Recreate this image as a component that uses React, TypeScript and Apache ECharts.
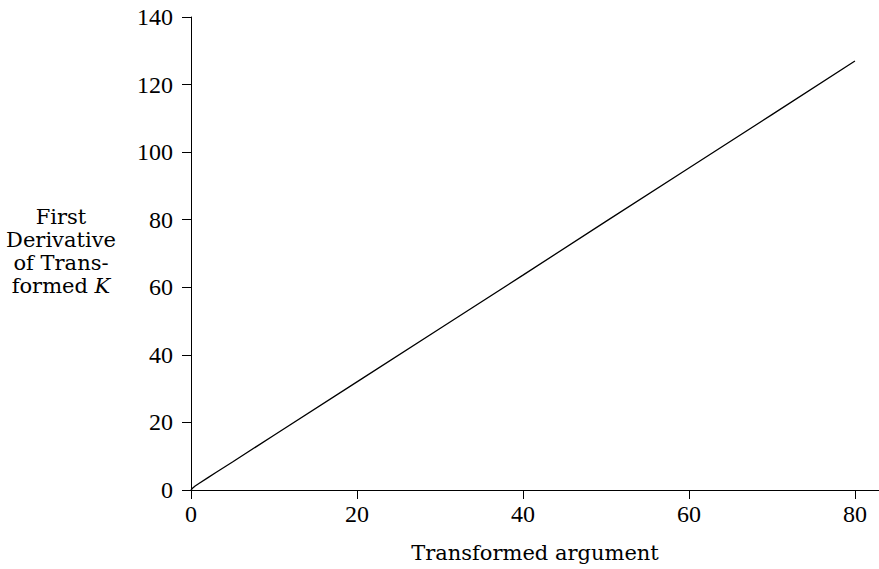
import React, { useEffect, useRef } from "react";
import * as echarts from "echarts";

const xValues = [0, 0.25, 0.5, 1, 2, 3, 5, 10, 20, 30, 40, 50, 60, 70, 80];
const yValues = [0, 0.7, 1.2, 2.0, 3.6, 5.2, 8.3, 16.2, 32.0, 47.8, 63.6, 79.5, 95.3, 111.1, 127.0];
const xTicks = [0, 20, 40, 60, 80];
const yTicks = [0, 20, 40, 60, 80, 100, 120, 140];
const xTitle = "Transformed argument";
const yTitleLines = ["First", "Derivative", "of Trans-"];

const TICK_FONT = "Liberation Serif";
const FONT = "DejaVu Serif";

export default function App() {
  const ref = useRef<HTMLDivElement>(null);
  useEffect(() => {
    if (!ref.current) return;
    const chart = echarts.init(ref.current, undefined, { renderer: "svg" });
    chart.setOption({
      animation: false,
      backgroundColor: "#ffffff",
      grid: { left: 191, top: 17, right: 0, bottom: 79, containLabel: false },
      xAxis: {
        type: "value",
        min: 0,
        max: 82.9,
        axisLine: { show: true, lineStyle: { color: "#000", width: 1 } },
        axisTick: { show: true, customValues: xTicks, length: 9, lineStyle: { color: "#000" } },
        axisLabel: { customValues: xTicks, color: "#000", fontFamily: TICK_FONT, fontSize: 24, margin: 12 },
        splitLine: { show: false },
      },
      yAxis: {
        type: "value",
        min: 0,
        max: 140,
        interval: 20,
        axisLine: { show: true, lineStyle: { color: "#000", width: 1 } },
        axisTick: { show: true, customValues: yTicks, length: 9, lineStyle: { color: "#000" } },
        axisLabel: { customValues: yTicks, color: "#000", fontFamily: TICK_FONT, fontSize: 24, margin: 18 },
        splitLine: { show: false },
      },
      graphic: [
        {
          type: "text",
          x: 535,
          y: 553,
          style: {
            text: xTitle,
            fontFamily: FONT,
            fontSize: 21,
            fill: "#000",
            align: "center",
            verticalAlign: "middle",
          },
        },
        {
          type: "text",
          x: 61,
          y: 205,
          style: {
            text: yTitleLines.join("\n") + "\n{n|formed }{i|K}",
            fontFamily: FONT,
            fontSize: 21,
            lineHeight: 23,
            align: "center",
            fill: "#000",
            rich: {
              n: { fontFamily: FONT, fontSize: 21, lineHeight: 23 },
              i: { fontFamily: FONT, fontSize: 21, fontStyle: "italic", lineHeight: 23 },
            },
          },
        },
      ],
      series: [
        {
          type: "line",
          data: xValues.map((x, i) => [x, yValues[i]]),
          showSymbol: false,
          smooth: false,
          lineStyle: { color: "#000", width: 1.3 },
        },
      ],
    });
    return () => chart.dispose();
  }, []);
  return <div ref={ref} style={{ width: 879, height: 569, position: "absolute", left: 0, top: 0 }} />;
}
